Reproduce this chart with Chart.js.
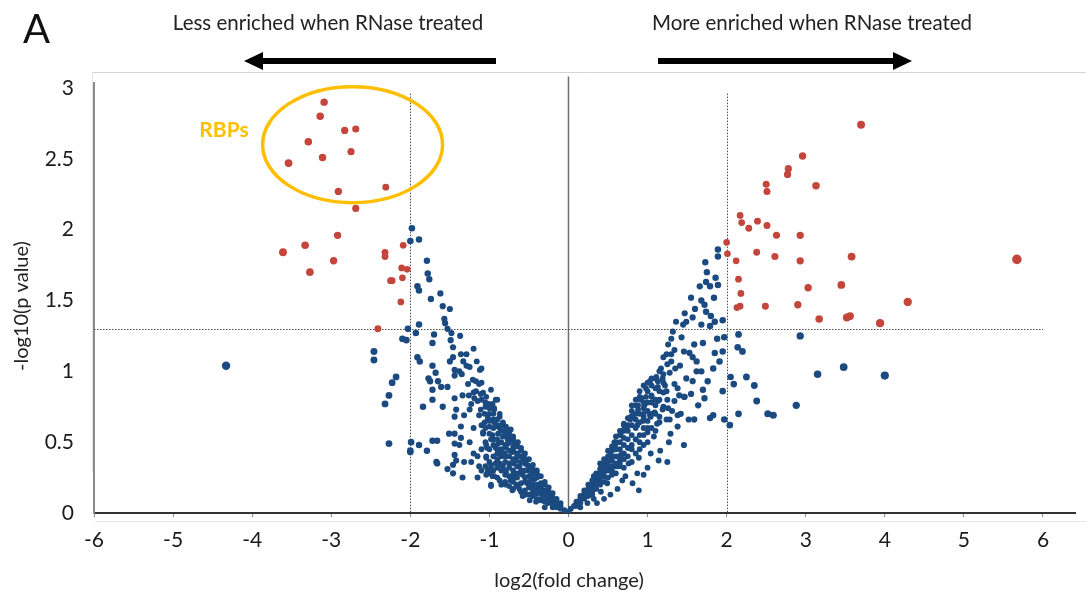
<!DOCTYPE html>
<html>
<head>
<meta charset="utf-8">
<script src="https://cdn.jsdelivr.net/npm/chart.js@4"></script>
<style>
  html, body { margin: 0; padding: 0; background: #fff; }
  #wrap { width: 1086px; height: 599px; position: relative; }
</style>
</head>
<body>
<div id="wrap"><canvas id="volcano"></canvas></div>
<script>
// Volcano plot: log2(fold change) vs -log10(p value), RNase treated vs untreated.

const X_TICKS = [-6, -5, -4, -3, -2, -1, 0, 1, 2, 3, 4, 5, 6];
const Y_TICKS = [0, 0.5, 1, 1.5, 2, 2.5, 3];
const FC_CUT = 2;     // |log2 FC| threshold
const P_CUT = 1.3;    // -log10(0.05)

// significant, less enriched (red, left)
const sigLeft = [
  [-3.09, 2.90], [-3.14, 2.80], [-2.83, 2.70], [-2.69, 2.71], [-3.29, 2.62], [-2.75, 2.55],
  [-3.54, 2.47], [-3.11, 2.51], [-2.91, 2.27], [-2.31, 2.30], [-2.69, 2.15], [-2.92, 1.96],
  [-3.33, 1.89], [-3.61, 1.84], [-2.97, 1.78], [-3.27, 1.70], [-2.32, 1.84], [-2.32, 1.81],
  [-2.09, 1.89], [-2.11, 1.73], [-2.04, 1.72], [-2.25, 1.64], [-2.23, 1.64], [-2.10, 1.66],
  [-2.12, 1.49], [-2.41, 1.30],
];

// significant, more enriched (red, right)
const sigRight = [
  [3.70, 2.74], [2.96, 2.52], [2.78, 2.43], [2.77, 2.39], [3.13, 2.31], [2.50, 2.32],
  [2.51, 2.27], [2.17, 2.10], [2.19, 2.05], [2.28, 2.01], [2.39, 2.06], [2.51, 2.03],
  [2.63, 1.96], [2.93, 1.96], [2.00, 1.91], [2.01, 1.83], [2.12, 1.78], [2.38, 1.84],
  [2.61, 1.81], [2.93, 1.78], [3.58, 1.81], [5.67, 1.79], [2.15, 1.65], [3.45, 1.61],
  [3.03, 1.59], [2.18, 1.55], [4.29, 1.49], [2.13, 1.45], [2.17, 1.46], [2.49, 1.46],
  [2.90, 1.47], [3.17, 1.37], [3.52, 1.38], [3.56, 1.39], [3.94, 1.34],
];

// not significant, negative fold change (blue)
const nsLeft = [
  [-4.33, 1.04], [-2.46, 1.14], [-2.46, 1.08], [-2.18, 0.96], [-2.23, 0.92], [-2.27, 0.83],
  [-2.32, 0.77], [-2.27, 0.49], [-2.10, 1.23], [-2.05, 1.22], [-2.03, 1.30], [-2.00, 0.44],
  [-2.00, 0.43], [-1.99, 0.50], [-1.89, 0.48], [-1.79, 0.44], [-1.72, 0.51], [-1.66, 0.51],
  [-1.66, 0.35], [-1.67, 0.36], [-1.98, 2.01], [-2.00, 1.92], [-1.89, 1.93], [-1.79, 1.78],
  [-1.78, 1.69], [-1.76, 1.65], [-1.91, 1.60], [-1.89, 1.57], [-1.62, 1.55], [-1.74, 1.51],
  [-1.59, 1.46], [-1.50, 1.44], [-1.57, 1.37], [-1.56, 1.34], [-1.89, 1.33], [-1.53, 1.30],
  [-1.93, 1.27], [-1.70, 1.26], [-1.48, 1.27], [-1.37, 1.25], [-1.49, 1.22], [-1.72, 1.20],
  [-1.46, 1.17], [-1.20, 1.16], [-1.36, 1.12], [-1.29, 1.12], [-1.91, 1.10], [-1.88, 1.07],
  [-1.46, 1.10], [-1.50, 1.07], [-1.33, 1.07], [-1.16, 1.07], [-1.72, 1.04], [-1.29, 1.04],
  [-1.25, 1.03], [-1.44, 1.01], [-1.38, 1.00], [-1.12, 1.01], [-1.68, 0.99], [-1.44, 0.97],
  [-1.35, 0.98], [-1.77, 0.95], [-1.75, 0.93], [-1.65, 0.93], [-1.21, 0.94], [-1.17, 0.93],
  [-1.13, 0.91], [-1.61, 0.89], [-1.53, 0.89], [-1.27, 0.91], [-1.72, 0.87], [-0.98, 0.87],
  [-1.17, 0.86], [-1.11, 0.84], [-1.26, 0.83], [-1.34, 0.83], [-1.44, 0.81], [-1.19, 0.81],
  [-1.72, 0.80], [-0.90, 0.80], [-1.15, 0.79], [-1.23, 0.77], [-1.01, 0.77], [-1.84, 0.75],
  [-1.59, 0.75], [-1.42, 0.73], [-1.25, 0.73], [-1.11, 0.73], [-0.94, 0.74], [-1.32, 0.69],
  [-1.13, 0.69], [-1.44, 0.68], [-1.02, 0.67], [-0.87, 0.68], [-1.06, 0.64], [-0.94, 0.64],
  [-0.83, 0.63], [-1.36, 0.61], [-1.00, 0.61], [-0.87, 0.60], [-0.79, 0.60], [-0.75, 0.57],
  [-0.89, 0.56], [-1.08, 0.56], [-1.51, 0.56], [-1.44, 0.56], [-0.83, 0.54], [-0.70, 0.54],
  [-0.77, 0.52], [-0.98, 0.52], [-1.36, 0.53], [-1.25, 0.50], [-1.44, 0.49], [-1.38, 0.48],
  [-0.89, 0.49], [-0.68, 0.49], [-1.03, 0.46], [-0.79, 0.46], [-0.70, 0.44], [-0.87, 0.42],
  [-1.44, 0.41], [-1.15, 0.40], [-1.04, 0.40], [-0.75, 0.40], [-1.42, 0.37], [-1.32, 0.36],
  [-1.23, 0.36], [-0.92, 0.35], [-0.98, 0.34], [-1.46, 0.34], [-1.13, 0.33], [-0.83, 0.33],
  [-1.53, 0.31], [-1.02, 0.30], [-0.79, 0.29], [-1.46, 0.28], [-1.34, 0.25], [-1.15, 0.25],
  [-0.94, 0.26], [-0.87, 0.23], [-0.98, 0.20], [-0.79, 0.20], [-0.73, 0.23], [-0.66, 0.19],
  [-1.10, 1.02], [-1.10, 0.92], [-1.08, 0.85], [-1.04, 0.82], [-0.92, 0.80], [-0.96, 0.77],
  [-0.94, 0.73], [-0.87, 0.70], [-1.06, 0.70], [-1.02, 0.66], [-0.83, 0.64], [-0.79, 0.61],
  [-0.89, 0.61], [-0.73, 0.59], [-1.08, 0.57], [-0.96, 0.55], [-0.71, 0.53], [-0.64, 0.50],
  [-0.77, 0.49], [-1.04, 0.48], [-0.92, 0.46], [-0.60, 0.44], [-0.71, 0.43], [-0.81, 0.42],
  [-1.04, 0.39], [-0.56, 0.39], [-0.66, 0.37], [-0.87, 0.35], [-0.52, 0.34], [-0.62, 0.33],
  [-0.75, 0.32], [-0.98, 0.32], [-0.47, 0.29], [-0.58, 0.27], [-1.04, 0.27], [-0.71, 0.24],
  [-0.43, 0.24], [-0.96, 0.26], [-0.81, 0.21], [-0.52, 0.21], [-0.37, 0.20], [-0.98, 0.19],
  [-0.62, 0.17], [-0.30, 0.16], [-0.45, 0.15], [-0.71, 0.16], [-0.54, 0.13], [-0.24, 0.12],
  [-0.35, 0.10], [-0.41, 0.08], [-0.18, 0.08], [-0.26, 0.07], [-0.11, 0.04], [-0.20, 0.04],
  [-0.05, 0.02], [-0.30, 0.04], [-0.49, 0.09], [-0.58, 0.12],
  [-0.50, 0.30], [-0.40, 0.25], [-0.30, 0.20], [-0.35, 0.18], [-0.25, 0.15], [-0.15, 0.10],
  [-0.10, 0.07], [-0.45, 0.28], [-0.55, 0.35], [-0.60, 0.40], [-0.65, 0.42], [-0.70, 0.47],
  [-0.75, 0.50], [-0.80, 0.55], [-0.85, 0.58], [-0.90, 0.62], [-0.95, 0.66], [-1.00, 0.70],
  [-1.05, 0.75], [-0.90, 0.45], [-0.80, 0.40], [-0.70, 0.35], [-0.60, 0.30], [-0.50, 0.22],
  [-0.40, 0.17], [-0.30, 0.12], [-0.20, 0.08], [-0.85, 0.50], [-0.65, 0.28], [-0.55, 0.25],
  [-0.45, 0.20], [-0.35, 0.14], [-0.25, 0.10], [-0.15, 0.06], [-0.95, 0.52], [-1.00, 0.56],
  [-0.90, 0.38], [-0.80, 0.30], [-0.70, 0.27],
  // núcleo denso cerca del origen
  [-0.10, 0.05], [-0.10, 0.03], [-0.15, 0.08], [-0.15, 0.04], [-0.20, 0.06], [-0.20, 0.11],
  [-0.20, 0.14], [-0.25, 0.08], [-0.25, 0.13], [-0.25, 0.18], [-0.30, 0.08], [-0.30, 0.14],
  [-0.30, 0.22], [-0.35, 0.09], [-0.35, 0.16], [-0.35, 0.21], [-0.35, 0.26], [-0.40, 0.10],
  [-0.40, 0.14], [-0.40, 0.20], [-0.40, 0.28], [-0.40, 0.30], [-0.45, 0.12], [-0.45, 0.18],
  [-0.45, 0.24], [-0.45, 0.31], [-0.45, 0.34], [-0.50, 0.13], [-0.50, 0.18], [-0.50, 0.26],
  [-0.50, 0.33], [-0.50, 0.38], [-0.55, 0.16], [-0.55, 0.22], [-0.55, 0.30], [-0.55, 0.37],
  [-0.55, 0.42], [-0.60, 0.15], [-0.60, 0.21], [-0.60, 0.28], [-0.60, 0.36], [-0.60, 0.46],
  [-0.65, 0.20], [-0.65, 0.25], [-0.65, 0.33], [-0.65, 0.40], [-0.65, 0.47], [-0.70, 0.17],
  [-0.70, 0.22], [-0.70, 0.30], [-0.70, 0.38], [-0.70, 0.52], [-0.75, 0.19], [-0.75, 0.26],
  [-0.75, 0.35], [-0.75, 0.44], [-0.75, 0.55], [-0.80, 0.22], [-0.80, 0.27], [-0.80, 0.36],
  [-0.80, 0.48], [-0.80, 0.58], [-0.85, 0.20], [-0.85, 0.30], [-0.85, 0.40], [-0.85, 0.45],
  [-0.85, 0.62], [-0.90, 0.25], [-0.90, 0.32], [-0.90, 0.42], [-0.90, 0.52], [-0.90, 0.66],
  [-0.95, 0.30], [-0.95, 0.40], [-0.95, 0.48], [-0.95, 0.60], [-0.95, 0.70], [-1.00, 0.28],
  [-1.00, 0.36], [-1.00, 0.45], [-1.00, 0.65], [-1.00, 0.74], [-1.05, 0.33], [-1.05, 0.50],
  [-1.05, 0.60], [-1.05, 0.78], [-1.10, 0.30], [-1.10, 0.45], [-1.10, 0.62], [-1.10, 0.80],
  [-1.20, 0.42], [-1.20, 0.60], [-1.20, 0.85],
];

// not significant, positive fold change (blue)
const nsRight = [
  [2.93, 1.25], [3.15, 0.98], [3.48, 1.03], [4.00, 0.97], [2.88, 0.76], [2.52, 0.70],
  [2.59, 0.69], [2.38, 0.79], [2.35, 0.90], [2.25, 0.96], [2.15, 1.26], [2.14, 1.17],
  [2.20, 1.14], [2.05, 0.96], [2.09, 0.91], [2.15, 0.70], [1.97, 0.66], [2.04, 0.62],
  [1.89, 1.86], [1.89, 1.81], [1.73, 1.77], [1.75, 1.70], [1.86, 1.66], [1.74, 1.63],
  [1.66, 1.60], [1.79, 1.60], [1.89, 1.61], [1.55, 1.52], [1.68, 1.50], [1.84, 1.52],
  [1.72, 1.47], [1.60, 1.44], [1.47, 1.41], [1.74, 1.42], [1.80, 1.39], [1.57, 1.38],
  [1.36, 1.35], [1.49, 1.35], [1.85, 1.35], [1.95, 1.36], [1.45, 1.33], [1.68, 1.33],
  [1.79, 1.32], [1.32, 1.28], [1.43, 1.24], [1.30, 1.23], [1.88, 1.23], [1.97, 1.24],
  [1.70, 1.20], [1.26, 1.19], [1.59, 1.19], [1.34, 1.15], [1.46, 1.14], [1.95, 1.14],
  [1.85, 1.13], [1.53, 1.13], [1.57, 1.10], [1.24, 1.12], [1.62, 1.07], [1.91, 1.07],
  [1.30, 1.07], [1.41, 1.04], [1.17, 1.02], [1.83, 1.02], [1.68, 1.00], [1.62, 1.00],
  [1.28, 0.99], [1.11, 0.96], [1.19, 0.95], [1.49, 0.95], [1.03, 0.93], [1.57, 0.93],
  [1.76, 0.93], [1.34, 0.91], [1.13, 0.89], [0.98, 0.88], [1.38, 0.88], [1.70, 0.87],
  [1.24, 0.86], [1.55, 0.84], [1.95, 0.86], [1.05, 0.83], [1.47, 0.82], [0.92, 0.81],
  [1.34, 0.79], [1.72, 0.81], [1.13, 0.79], [0.96, 0.76], [1.64, 0.76], [1.26, 0.74],
  [0.88, 0.73], [1.09, 0.71], [1.03, 0.69], [1.38, 0.69], [1.83, 0.69], [0.79, 0.68],
  [1.28, 0.66], [1.59, 0.66], [1.79, 0.67], [0.94, 0.65], [1.15, 0.64],
  [1.00, 0.92], [1.13, 0.93], [1.22, 0.90], [1.40, 0.83], [1.46, 0.82], [1.25, 0.80],
  [0.91, 0.80], [0.85, 0.76], [1.10, 0.76], [1.19, 0.73], [1.31, 0.72], [1.42, 0.70],
  [0.95, 0.70], [0.81, 0.68], [1.04, 0.68], [1.24, 0.66], [1.52, 0.66], [0.70, 0.63],
  [0.87, 0.62], [1.12, 0.63], [1.38, 0.61], [0.74, 0.59], [1.00, 0.57], [1.29, 0.56],
  [0.66, 0.55], [1.08, 0.54], [0.85, 0.52], [1.27, 0.50], [1.46, 0.48], [0.59, 0.48],
  [0.95, 0.48], [0.76, 0.46], [1.16, 0.44], [1.04, 0.42], [0.53, 0.43], [0.66, 0.41],
  [0.89, 0.39], [1.14, 0.37], [1.25, 0.36], [0.49, 0.37], [0.76, 0.35], [0.64, 0.33],
  [1.00, 0.32], [0.41, 0.32], [0.87, 0.28], [0.95, 0.27], [0.55, 0.27], [0.72, 0.26],
  [0.32, 0.26], [0.68, 0.23], [0.81, 0.21], [0.49, 0.21], [0.89, 0.16], [0.62, 0.17],
  [0.28, 0.19], [0.41, 0.15], [0.53, 0.13], [0.22, 0.13], [0.32, 0.10], [0.45, 0.10],
  [0.13, 0.08], [0.24, 0.07], [0.07, 0.05], [0.36, 0.07], [0.03, 0.03], [0.15, 0.04],
  [0.00, 0.01],
  [0.10, 0.06], [0.15, 0.10], [0.20, 0.14], [0.25, 0.17], [0.30, 0.20], [0.35, 0.25],
  [0.40, 0.28], [0.45, 0.32], [0.50, 0.36], [0.55, 0.40], [0.60, 0.45], [0.65, 0.50],
  [0.70, 0.53], [0.75, 0.58], [0.80, 0.62], [0.85, 0.66], [0.90, 0.70], [0.95, 0.74],
  [1.00, 0.78], [1.05, 0.82], [0.20, 0.10], [0.30, 0.15], [0.40, 0.22], [0.50, 0.30],
  [0.60, 0.35], [0.70, 0.42], [0.80, 0.48], [0.90, 0.55], [1.00, 0.60], [0.35, 0.20],
  [0.45, 0.26], [0.55, 0.33], [0.65, 0.38], [0.75, 0.46], [0.85, 0.52], [0.95, 0.60],
  [1.10, 0.70], [1.15, 0.80], [1.05, 0.90], [1.10, 0.95], [0.58, 0.50], [0.68, 0.58],
  [0.78, 0.66], [0.88, 0.76], [0.98, 0.82], [1.20, 0.98], [1.25, 1.05], [1.30, 1.12],
  [1.35, 1.02], [1.20, 0.85],
  // núcleo denso cerca del origen
  [0.10, 0.05], [0.10, 0.08], [0.15, 0.07], [0.15, 0.12], [0.20, 0.12], [0.20, 0.16],
  [0.25, 0.12], [0.25, 0.20], [0.25, 0.15], [0.30, 0.17], [0.30, 0.23], [0.30, 0.13],
  [0.35, 0.17], [0.35, 0.22], [0.35, 0.28], [0.40, 0.20], [0.40, 0.25], [0.40, 0.31],
  [0.40, 0.35], [0.45, 0.22], [0.45, 0.29], [0.45, 0.35], [0.45, 0.38], [0.50, 0.25],
  [0.50, 0.33], [0.50, 0.40], [0.50, 0.44], [0.55, 0.30], [0.55, 0.37], [0.55, 0.44],
  [0.55, 0.47], [0.60, 0.28], [0.60, 0.33], [0.60, 0.40], [0.60, 0.50], [0.60, 0.54],
  [0.65, 0.35], [0.65, 0.45], [0.65, 0.55], [0.65, 0.58], [0.70, 0.32], [0.70, 0.38],
  [0.70, 0.48], [0.70, 0.58], [0.70, 0.62], [0.75, 0.40], [0.75, 0.52], [0.75, 0.62],
  [0.75, 0.67], [0.80, 0.36], [0.80, 0.45], [0.80, 0.55], [0.80, 0.72], [0.80, 0.76],
  [0.85, 0.42], [0.85, 0.60], [0.85, 0.70], [0.85, 0.80], [0.90, 0.45], [0.90, 0.50],
  [0.90, 0.64], [0.90, 0.82], [0.90, 0.86], [0.95, 0.55], [0.95, 0.68], [0.95, 0.78],
  [0.95, 0.90], [1.00, 0.50], [1.00, 0.65], [1.00, 0.72], [1.00, 0.86], [1.05, 0.60],
  [1.05, 0.70], [1.05, 0.78], [1.05, 0.95], [1.10, 0.58], [1.10, 0.80], [1.10, 0.88],
  [1.15, 0.68], [1.15, 0.86], [1.15, 1.00], [1.20, 0.75], [1.20, 0.92], [1.20, 1.10],
];

const RED = "#C4453B";
const BLUE = "#1B4A80";
const GOLD = "#FFBF00";
const FONT = 'Lato, "Open Sans", sans-serif';

const aPuntos = (pares) => pares.map(([x, y]) => ({ x, y }));

// Los puntos más alejados del centro se ven algo más grandes en el original.
const radio = (c) => (c.raw ? 2.9 + 0.4 * Math.max(0, Math.abs(c.raw.x) - 1) : 3);

function flecha(ctx, x0, x1, y, dir) {
  ctx.fillStyle = "#000";
  const tip = x1, base = x1 - dir * 19;
  ctx.fillRect(Math.min(x0, base), y - 3, Math.abs(base - x0), 6);
  ctx.beginPath();
  ctx.moveTo(tip, y);
  ctx.lineTo(base, y - 9);
  ctx.lineTo(base, y + 9);
  ctx.closePath();
  ctx.fill();
}

const decoracion = {
  id: "decoracion",
  beforeDraw(chart) {
    const ctx = chart.ctx;
    ctx.save();
    ctx.lineWidth = 1;
    ctx.strokeStyle = "#d4d4d4";
    ctx.beginPath(); ctx.moveTo(93, 72.5); ctx.lineTo(1086, 72.5); ctx.stroke();
    ctx.strokeStyle = "#e6e6e6";
    ctx.beginPath(); ctx.moveTo(92.5, 72); ctx.lineTo(92.5, 473); ctx.stroke();
    ctx.beginPath(); ctx.moveTo(95, 521.5); ctx.lineTo(1086, 521.5); ctx.stroke();
    ctx.restore();
  },
  beforeDatasetsDraw(chart) {
    const { ctx, scales: { x, y } } = chart;
    ctx.save();
    // eje vertical en x = 0
    ctx.strokeStyle = "#6f6f6f";
    ctx.lineWidth = 1.5;
    ctx.beginPath();
    ctx.moveTo(x.getPixelForValue(0), y.getPixelForValue(3.08));
    ctx.lineTo(x.getPixelForValue(0), y.getPixelForValue(0));
    ctx.stroke();
    // umbrales punteados
    ctx.strokeStyle = "#4a4a4a";
    ctx.lineWidth = 1;
    ctx.setLineDash([1.5, 1.5]);
    for (const fc of [-FC_CUT, FC_CUT]) {
      const px = Math.round(x.getPixelForValue(fc)) + 0.5;
      ctx.beginPath();
      ctx.moveTo(px, y.getPixelForValue(2.96));
      ctx.lineTo(px, y.getPixelForValue(0));
      ctx.stroke();
    }
    const py = Math.round(y.getPixelForValue(P_CUT)) + 0.5;
    ctx.beginPath();
    ctx.moveTo(x.getPixelForValue(-6), py);
    ctx.lineTo(x.getPixelForValue(6), py);
    ctx.stroke();
    ctx.restore();
  },
  afterDraw(chart) {
    const { ctx, scales: { x, y } } = chart;
    ctx.save();
    ctx.fillStyle = "#111";
    ctx.font = `40px ${FONT}`;
    ctx.textAlign = "left";
    ctx.textBaseline = "alphabetic";
    ctx.fillText("A", 23, 43);

    ctx.fillStyle = "#222";
    ctx.font = `20.5px ${FONT}`;
    ctx.textAlign = "center";
    ctx.textBaseline = "middle";
    ctx.fillText("Less enriched when RNase treated", 328, 23);
    ctx.fillText("More enriched when RNase treated", 812, 23);

    flecha(ctx, 496, 244, 61, -1);
    flecha(ctx, 658, 912, 61, 1);

    // óvalo de las RBPs
    const cx = x.getPixelForValue(-2.73), cy = y.getPixelForValue(2.6);
    ctx.strokeStyle = GOLD;
    ctx.lineWidth = 3.5;
    ctx.beginPath();
    ctx.ellipse(cx, cy, 90, 58, 0, 0, Math.PI * 2);
    ctx.stroke();
    ctx.fillStyle = GOLD;
    ctx.font = `bold 21px ${FONT}`;
    ctx.fillText("RBPs", 224, 130);

    ctx.fillStyle = "#222";
    ctx.font = `20px ${FONT}`;
    ctx.fillText("log2(fold change)", 569, 581);
    ctx.translate(22, 306);
    ctx.rotate(-Math.PI / 2);
    ctx.fillText("-log10(p value)", 0, 0);
    ctx.restore();
  },
};

const ctx = document.getElementById("volcano").getContext("2d");
new Chart(ctx, {
  type: "scatter",
  data: {
    datasets: [
      { label: "ns", data: aPuntos(nsLeft.concat(nsRight)), backgroundColor: BLUE },
      { label: "sig", data: aPuntos(sigLeft.concat(sigRight)), backgroundColor: RED },
    ],
  },
  options: {
    responsive: true,
    maintainAspectRatio: false,
    animation: false,
    devicePixelRatio: 1,
    layout: { autoPadding: false, padding: { left: 0, right: 11, top: 83, bottom: 0 } },
    elements: { point: { radius: radio, borderWidth: 0, hoverRadius: radio } },
    plugins: { legend: { display: false }, tooltip: { enabled: false } },
    scales: {
      x: {
        type: "linear",
        min: X_TICKS[0],
        max: 6.405,
        afterBuildTicks: (s) => { s.ticks = X_TICKS.map((v) => ({ value: v })); },
        afterFit: (s) => { s.height = 86; },
        ticks: { color: "#1a1a1a", font: { family: FONT, size: 21 }, padding: 11 },
        grid: { drawOnChartArea: false, drawTicks: true, tickLength: 4, color: "#888" },
        border: { display: true, color: "#333", width: 2 },
      },
      y: {
        type: "linear",
        min: 0,
        max: 3.035,
        afterBuildTicks: (s) => { s.ticks = Y_TICKS.map((v) => ({ value: v })); },
        afterFit: (s) => { s.width = 94; },
        ticks: { color: "#1a1a1a", font: { family: FONT, size: 21 }, padding: 12, callback: (v) => String(v) },
        grid: { display: false },
        border: { display: true, color: "#8a8a8a", width: 2 },
      },
    },
  },
  plugins: [decoracion],
});
</script>
</body>
</html>
